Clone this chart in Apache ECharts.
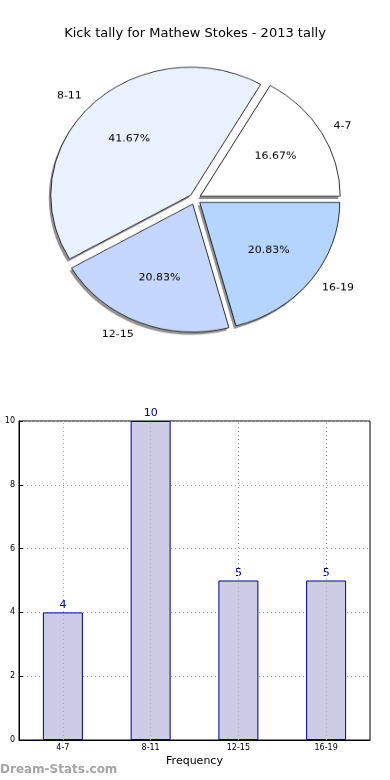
<!DOCTYPE html>
<html>
<head>
<meta charset="utf-8">
<script src="https://cdn.jsdelivr.net/npm/echarts@6/dist/echarts.min.js"></script>
<style>
html,body{margin:0;padding:0;background:#fff;}
#wrap{position:relative;width:390px;height:780px;}
#bar{position:absolute;left:0;top:0;width:390px;height:780px;}
#pie{position:absolute;left:0;top:0;width:390px;height:400px;transform-origin:195px 199px;transform:scaleY(0.914);}
</style>
</head>
<body>
<div id="wrap"><div id="bar"></div><div id="pie"></div></div>
<script>
const titleText = 'Kick tally for Mathew Stokes - 2013 tally';
const categories = ['4-7', '8-11', '12-15', '16-19'];
const counts = [4, 10, 5, 5];
const sliceColors = ['#ffffff', '#ebf2ff', '#c6d7ff', '#b5d5ff'];
const yTicks = [0, 2, 4, 6, 8, 10];
const xAxisTitle = 'Frequency';
const yAxisTitle = 'Count of kicks';
const watermark = 'Dream-Stats.com';

const FONT = 'DejaVu Sans';

// ---------- bar chart + title ----------
const bar = echarts.init(document.getElementById('bar'), null, {renderer: 'canvas'});
bar.setOption({
  animation: false,
  title: {text: titleText, left: 'center', top: 22,
    textStyle: {fontFamily: FONT, fontSize: 13, fontWeight: 'normal', color: '#000'}},
  graphic: [
    {type: 'text', left: 0, top: 764,
      style: {text: watermark, fontFamily: FONT, fontSize: 12, fontWeight: 'bold', fill: '#a5a5a5'}},
    {type: 'text', x: -3, y: 580, rotation: Math.PI / 2,
      style: {text: yAxisTitle, fontFamily: FONT, fontSize: 11, fill: '#000',
        align: 'center', verticalAlign: 'middle'}}
  ],
  grid: {left: 19, right: 20, top: 421, bottom: 40, containLabel: false, outerBoundsMode: 'none',
    show: true, borderColor: '#000', borderWidth: 1, backgroundColor: 'transparent'},
  xAxis: {
    type: 'category', data: categories,
    name: xAxisTitle, nameLocation: 'middle', nameGap: 16, nameMoveOverlap: false,
    nameTextStyle: {fontFamily: FONT, fontSize: 11, color: '#000'},
    axisLine: {lineStyle: {color: '#000', width: 1}},
    axisTick: {show: true, alignWithLabel: true, inside: true, length: 4, lineStyle: {color: '#000'}},
    axisLabel: {fontFamily: FONT, fontSize: 8, color: '#000', margin: 4},
    splitLine: {show: false}
  },
  yAxis: {
    type: 'value', min: yTicks[0], max: yTicks[yTicks.length - 1], interval: yTicks[1] - yTicks[0],
    axisLine: {show: true, lineStyle: {color: '#000', width: 1}},
    axisTick: {show: true, inside: true, length: 4, lineStyle: {color: '#000'}},
    axisLabel: {fontFamily: FONT, fontSize: 8, color: '#000', margin: 4},
    splitLine: {show: true, lineStyle: {color: '#b0b0b0', type: [1, 3], width: 1}}
  },
  series: [{
    type: 'bar', data: counts, barWidth: 40,
    itemStyle: {color: '#ccccE6', borderColor: '#000080', borderWidth: 1},
    label: {show: true, position: 'top', distance: 2, fontFamily: FONT, fontSize: 11, color: '#000080'},
    emphasis: {disabled: true},
    markLine: {
      silent: true, symbol: ['none', 'none'], label: {show: false},
      lineStyle: {color: '#b0b0b0', type: [1, 3], width: 1},
      data: categories.map(c => ({xAxis: c}))
    },
    z: 2
  }]
});

// ---------- pie chart ----------
const pie = echarts.init(document.getElementById('pie'), null, {renderer: 'canvas'});
const R = 140;
const OFF = 6;
const basePie = {
  type: 'pie', radius: [0, R], startAngle: 0, clockwise: false,
  selectedMode: 'multiple', selectedOffset: OFF, avoidLabelOverlap: false,
  emphasis: {disabled: true}
};
pie.setOption({
  animation: false,
  series: [
    Object.assign({}, basePie, {
      // shadow layer
      center: [193, 202], silent: true, z: 1,
      data: categories.map((c, i) => ({name: c, value: counts[i], selected: true})),
      itemStyle: {color: 'rgba(60,60,60,0.55)', borderWidth: 0},
      select: {itemStyle: {color: 'rgba(60,60,60,0.55)', borderWidth: 0}},
      label: {show: false}, labelLine: {show: false}
    }),
    Object.assign({}, basePie, {
      center: [195, 199], z: 2,
      data: categories.map((c, i) => ({name: c, value: counts[i], selected: true,
        itemStyle: {color: sliceColors[i]}})),
      itemStyle: {borderColor: '#000', borderWidth: 0.8},
      select: {itemStyle: {borderColor: '#000', borderWidth: 0.8}},
      label: {show: true, position: 'outside', distanceToLabelLine: 0,
        formatter: '{b}', fontFamily: FONT, fontSize: 11, color: '#000'},
      labelLine: {show: false, length: 14, length2: 0}
    }),
    Object.assign({}, basePie, {
      center: [195, 199], radius: [0, R * 1.2], z: 3,
      silent: true, percentPrecision: 2,
      data: categories.map((c, i) => ({name: c, value: counts[i], selected: true})),
      itemStyle: {color: 'rgba(0,0,0,0)', borderWidth: 0},
      select: {itemStyle: {color: 'rgba(0,0,0,0)', borderWidth: 0}},
      label: {show: true, position: 'inside', formatter: '{d}%',
        fontFamily: FONT, fontSize: 11, color: '#000'},
      labelLine: {show: false}
    })
  ]
});
</script>
</body>
</html>
